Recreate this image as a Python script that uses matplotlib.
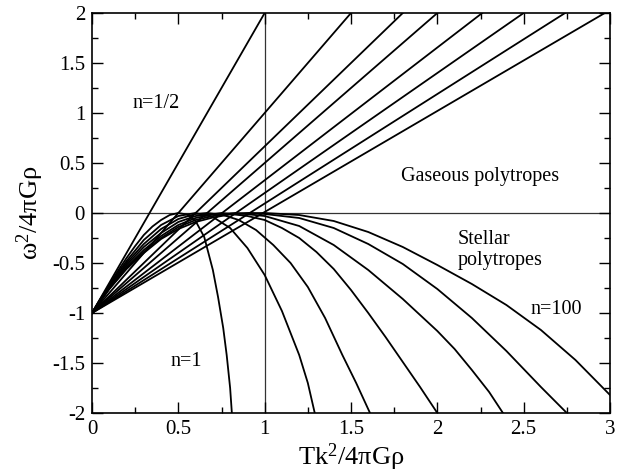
import matplotlib
matplotlib.use("Agg")
import matplotlib.pyplot as plt
from matplotlib.ticker import MultipleLocator

plt.rcParams['font.family'] = ['Liberation Serif', 'DejaVu Serif']
plt.rcParams['mathtext.fontset'] = 'custom'
plt.rcParams['mathtext.rm'] = 'Liberation Serif'
plt.rcParams['mathtext.it'] = 'Liberation Serif:italic'

# ---- Gaseous polytropes: straight lines from (0, -1), x where each reaches y = 2
gas_n = ['1/2', '1', '3/2', '2', '3', '5', '10', '100']
gas_x_start = 0.0
gas_y_start = -1.0
gas_x_top = [1.0, 1.5, 1.8, 2.0, 2.26, 2.5, 2.74, 2.97]
gas_y_top = 2.0

# ---- Stellar polytropes
st_x_n1 = [0, 0.05, 0.1, 0.15, 0.2, 0.25, 0.3, 0.35, 0.4, 0.45, 0.5, 0.55, 0.6, 0.65, 0.7, 0.73, 0.76, 0.78, 0.8, 0.81]
st_y_n1 = [-1, -0.855, -0.72, -0.58, -0.45, -0.33, -0.22, -0.135, -0.07, -0.02, 0, -0.015, -0.08, -0.24, -0.57, -0.84, -1.15, -1.42, -1.75, -2.0]

st_x_n1_5 = [0, 0.05, 0.1, 0.15, 0.2, 0.3, 0.4, 0.5, 0.6, 0.7, 0.8, 0.9, 1.0, 1.1, 1.2, 1.25, 1.29]
st_y_n1_5 = [-1, -0.86, -0.73, -0.6, -0.48, -0.27, -0.12, -0.03, 0, -0.04, -0.15, -0.35, -0.62, -0.98, -1.42, -1.7, -2.0]

st_x_n2 = [0, 0.05, 0.1, 0.15, 0.2, 0.3, 0.4, 0.5, 0.6, 0.667, 0.75, 0.85, 0.95, 1.05, 1.15, 1.25, 1.35, 1.45, 1.53, 1.61]
st_y_n2 = [-1, -0.86, -0.74, -0.62, -0.5, -0.31, -0.16, -0.06, -0.01, 0, -0.015, -0.07, -0.17, -0.32, -0.5, -0.74, -1.05, -1.42, -1.7, -2.0]

st_x_n3 = [0, 0.05, 0.1, 0.2, 0.3, 0.4, 0.5, 0.6, 0.75, 0.9, 1.0, 1.1, 1.2, 1.3, 1.4, 1.5, 1.6, 1.7, 1.8, 1.9, 2.0]
st_y_n3 = [-1, -0.87, -0.75, -0.52, -0.34, -0.2, -0.09, -0.03, 0, -0.03, -0.07, -0.15, -0.25, -0.39, -0.56, -0.77, -1.0, -1.24, -1.49, -1.74, -2.0]

st_x_n5 = [0, 0.05, 0.1, 0.2, 0.3, 0.4, 0.5, 0.6, 0.7, 0.833, 1.0, 1.2, 1.4, 1.6, 1.8, 2.0, 2.1, 2.2, 2.3, 2.38]
st_y_n5 = [-1, -0.87, -0.75, -0.54, -0.37, -0.23, -0.12, -0.05, -0.015, 0, -0.03, -0.13, -0.32, -0.57, -0.86, -1.18, -1.36, -1.57, -1.79, -2.0]

st_x_n10 = [0, 0.05, 0.1, 0.2, 0.3, 0.4, 0.5, 0.6, 0.7, 0.8, 0.909, 1.0, 1.2, 1.4, 1.6, 1.8, 2.0, 2.2, 2.4, 2.6, 2.75]
st_y_n10 = [-1, -0.88, -0.76, -0.55, -0.39, -0.25, -0.14, -0.07, -0.03, -0.008, 0, -0.01, -0.05, -0.15, -0.31, -0.51, -0.76, -1.05, -1.38, -1.74, -2.0]

st_x_n100 = [0, 0.05, 0.1, 0.2, 0.3, 0.4, 0.5, 0.6, 0.7, 0.8, 0.9, 1.0, 1.2, 1.4, 1.6, 1.8, 2.0, 2.2, 2.4, 2.6, 2.8, 3.0]
st_y_n100 = [-1, -0.88, -0.76, -0.56, -0.40, -0.26, -0.16, -0.09, -0.045, -0.015, -0.003, 0, -0.02, -0.08, -0.19, -0.34, -0.52, -0.71, -0.92, -1.17, -1.47, -1.82]

stellar = [(st_x_n1, st_y_n1), (st_x_n1_5, st_y_n1_5), (st_x_n2, st_y_n2), (st_x_n3, st_y_n3),
           (st_x_n5, st_y_n5), (st_x_n10, st_y_n10), (st_x_n100, st_y_n100)]

x_ticks = [0, 0.5, 1, 1.5, 2, 2.5, 3]
x_tick_labels = ['0', '0.5', '1', '1.5', '2', '2.5', '3']
y_ticks = [-2, -1.5, -1, -0.5, 0, 0.5, 1, 1.5, 2]
y_tick_labels = ['-2', '-1.5', '-1', '-0.5', '0', '0.5', '1', '1.5', '2']

fig = plt.figure(figsize=(6.37, 4.74), dpi=100)
ax = fig.add_axes([92/637, 1-413/474, (610-92)/637, (413-13)/474])

ax.axhline(0, color='#333333', lw=0.9, zorder=1)
ax.axvline(1, color='#333333', lw=0.9, zorder=1)

for xt in gas_x_top:
    ax.plot([gas_x_start, xt], [gas_y_start, gas_y_top], color='black', lw=1.3, zorder=2)
for xs, ys in stellar:
    ax.plot(xs, ys, color='black', lw=1.3, zorder=2, solid_joinstyle='round')

ax.set_xlim(0, 3)
ax.set_ylim(-2, 2)
ax.set_xticks(x_ticks)
ax.set_xticklabels(x_tick_labels)
ax.set_yticks(y_ticks)
ax.set_yticklabels(y_tick_labels)
ax.xaxis.set_minor_locator(MultipleLocator(0.25))
ax.yaxis.set_minor_locator(MultipleLocator(0.25))
ax.tick_params(which='both', direction='in', top=True, right=True, labelsize=15, width=1.0)
ax.tick_params(which='major', length=8, pad=5)
ax.tick_params(which='minor', length=4.5)
for s in ax.spines.values():
    s.set_linewidth(1.2)

ax.set_xlabel('Tk$^2$/4πGρ', fontsize=19, labelpad=2)
ax.set_ylabel('ω$^2$/4πGρ', fontsize=19, labelpad=4)

ax.text(0.37, 1.10, 'n=1/2', fontsize=14.5, ha='center', va='center')
ax.text(0.544, -1.48, 'n=1', fontsize=14.5, ha='center', va='center')
ax.text(2.247, 0.36, 'Gaseous polytropes', fontsize=14.5, ha='center', va='center')
ax.text(2.119, -0.37, 'Stellar\npolytropes', fontsize=14.5, ha='left', va='center', linespacing=1.2)
ax.text(2.69, -0.97, 'n=100', fontsize=14.5, ha='center', va='center')

fig.savefig('out.png', dpi=100)
